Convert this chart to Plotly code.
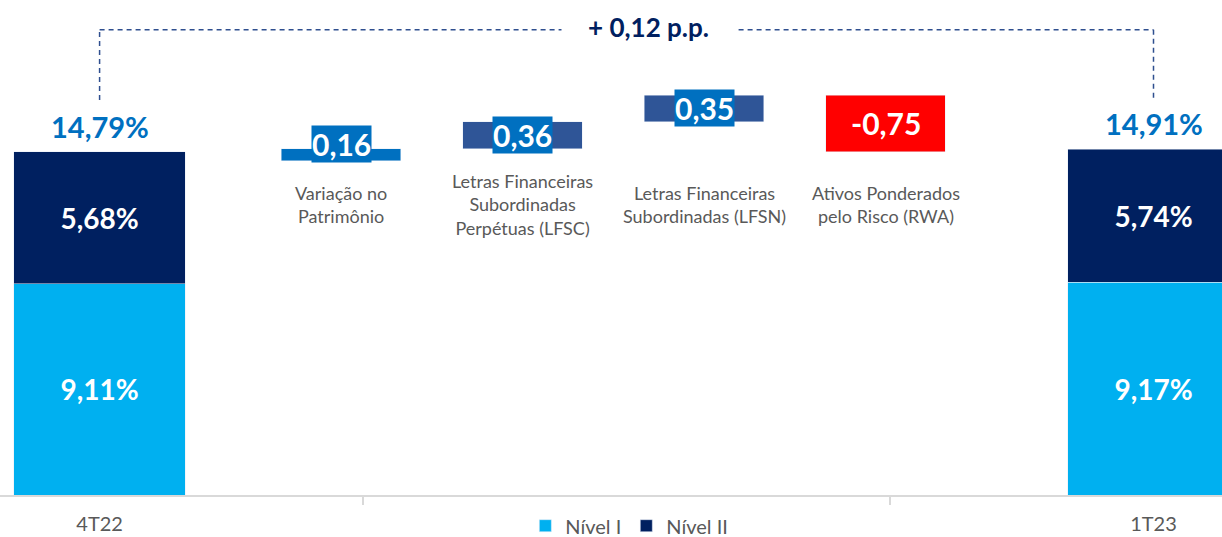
import numpy as np
import plotly.graph_objects as go

# ---------------- data ----------------
periods = ["4T22", "1T23"]
nivel1 = [9.11, 9.17]
nivel2 = [5.68, 5.74]
totals = [14.79, 14.91]

delta_labels = [
    "Variação no<br>Patrimônio",
    "Letras Financeiras<br>Subordinadas<br>Perpétuas (LFSC)",
    "Letras Financeiras<br>Subordinadas (LFSN)",
    "Ativos Ponderados<br>pelo Risco (RWA)",
]
delta_keys = ["VP", "LFSC", "LFSN", "RWA"]
delta_values = [0.16, 0.36, 0.35, -0.75]
change_label = "+ 0,12 p.p."

# ---------------- styles ----------------
C_N1 = "#00B0F0"
C_N2 = "#002060"
C_TOT = "#0070C0"
C_GRAY = "#595959"
delta_colors = ["#0070C0", "#2F5597", "#2F5597", "#FF0000"]
delta_boxes = ["#0070C0", "#0070C0", "#0070C0", "rgba(0,0,0,0)"]
delta_yshift = [11, 0, 0, 0]
FONT = "Lato"


def br(v, pct=False):
    s = f"{v:.2f}".replace(".", ",")
    return s + ("%" if pct else "")


cats_main = [periods[0], " ", periods[1]]

fig = go.Figure()
fig.add_trace(go.Bar(
    x=periods, y=nivel1, name="Nível I", marker_color=C_N1,
    width=0.326, text=[br(v, True) for v in nivel1], texttemplate="%{text}",
    textposition="inside", insidetextanchor="middle", textangle=0,
    constraintext="none",
    textfont=dict(family=FONT, size=28, color="white", weight="bold"),
    hoverinfo="skip",
))
fig.add_trace(go.Bar(
    x=periods, y=nivel2, name="Nível II", marker_color=C_N2,
    width=0.326, text=[br(v, True) for v in nivel2], texttemplate="%{text}",
    textposition="inside", insidetextanchor="middle", textangle=0,
    constraintext="none",
    textfont=dict(family=FONT, size=28, color="white", weight="bold"),
    hoverinfo="skip",
))

# waterfall deltas on secondary axes
dv = np.array(delta_values)
bases = totals[0] + np.concatenate([[0.0], np.cumsum(dv)[:-1]])
fig.add_trace(go.Bar(
    x=delta_keys, y=dv, base=bases, marker_color=delta_colors,
    width=0.66, xaxis="x2", yaxis="y2", showlegend=False, hoverinfo="skip",
))

annotations = []
for p, t in zip(periods, totals):
    annotations.append(dict(
        x=p, y=t, xref="x", yref="y", text=br(t, True), showarrow=False,
        yanchor="bottom", yshift=6,
        font=dict(family=FONT, size=29, color=C_TOT, weight="bold"),
    ))
for k, v, b, bg, ys in zip(delta_keys, dv, bases, delta_boxes, delta_yshift):
    annotations.append(dict(
        x=k, y=b + v / 2, xref="x2", yref="y2", text=br(v), showarrow=False,
        yanchor="middle", yshift=ys, bgcolor=bg, borderpad=0,
        font=dict(family=FONT, size=30, color="white", weight="bold"),
    ))
for k, lab in zip(delta_keys, delta_labels):
    annotations.append(dict(
        x=k, y=0.586, xref="x2", yref="paper", text=lab, showarrow=False,
        yanchor="middle", align="center",
        font=dict(family=FONT, size=18, color=C_GRAY),
    ))
annotations.append(dict(
    x=0.531, y=0.945, xref="paper", yref="paper", text=change_label,
    showarrow=False, yanchor="middle", bgcolor="white", borderpad=26,
    font=dict(family=FONT, size=26, color=C_N2, weight="bold"),
))

line_style = dict(color="#2F4F8F", width=1.5, dash="5px,4px")
shapes = [
    dict(type="line", xref="x", yref="paper", x0=0, x1=0, y0=0.798, y1=0.94, line=line_style),
    dict(type="line", xref="x", yref="paper", x0=0, x1=2, y0=0.94, y1=0.94, line=line_style),
    dict(type="line", xref="x", yref="paper", x0=2, x1=2, y0=0.94, y1=0.798, line=line_style),
]

fig.update_layout(
    width=1222, height=537,
    margin=dict(l=0, r=0, t=0, b=42, autoexpand=False),
    paper_bgcolor="white", plot_bgcolor="white",
    barmode="stack",
    font=dict(family=FONT, color=C_GRAY),
    xaxis=dict(
        type="category", categoryorder="array", categoryarray=cats_main,
        range=[-0.189, 2.130], tickson="boundaries", ticks="outside",
        ticklen=8, tickcolor="#D9D9D9", tickwidth=1.5,
        showline=True, linecolor="#D9D9D9", linewidth=2,
        showgrid=False, zeroline=False, ticklabelstandoff=10,
        tickfont=dict(family=FONT, size=20, color=C_GRAY), fixedrange=True,
    ),
    yaxis=dict(range=[0, 21.34], visible=False, fixedrange=True),
    xaxis2=dict(
        type="category", categoryorder="array", categoryarray=delta_keys,
        overlaying="x", range=[-1.879, 4.854], visible=False, fixedrange=True,
    ),
    yaxis2=dict(overlaying="y", range=[10.33, 16.93], visible=False, fixedrange=True),
    legend=dict(
        orientation="h", x=0.515, xanchor="center", y=-0.062, yanchor="middle",
        font=dict(family=FONT, size=20, color=C_GRAY), traceorder="normal",
        bgcolor="rgba(0,0,0,0)", itemwidth=30, tracegroupgap=0,
    ),
    annotations=annotations,
    shapes=shapes,
)

fig.write_html(
    "out.html",
    config={"displayModeBar": False},
    post_script="document.body.style.margin='0';",
)
